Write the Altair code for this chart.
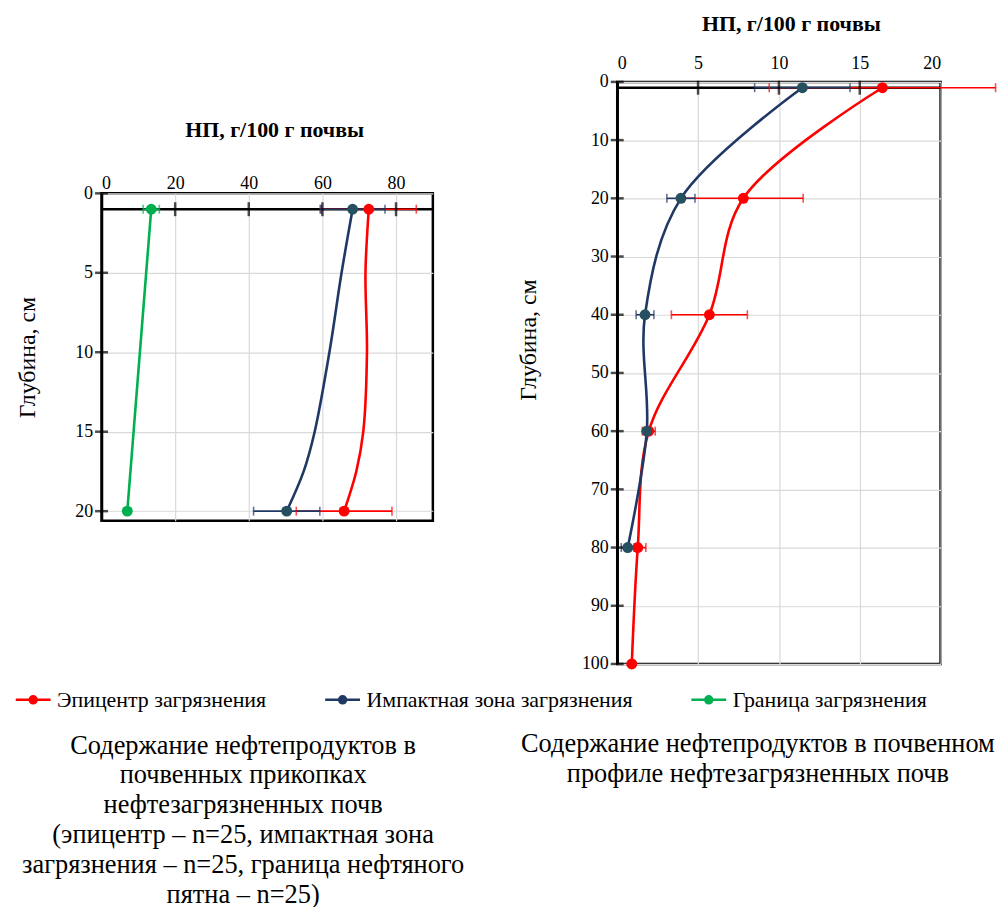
import altair as alt
import pandas as pd

SERIES = ["Эпицентр загрязнения", "Импактная зона загрязнения", "Граница загрязнения"]
LINE_COLORS = ["#ff0000", "#1f3864", "#00b050"]
MARKER_COLORS = ["#ff0000", "#26505f", "#00b050"]

# ---- left panel: прикопки (depth 1 and 20 cm) ----
left_depth = [1, 20]
left_epi = [72.6, 65.9]
left_epi_err = [12.9, 13.0]
left_imp = [68.2, 50.3]
left_imp_err = [8.8, 9.0]
left_bnd = [13.5, 7.0]
left_bnd_err = [2.2, 0.0]
# smoothed curves
left_curve_depth = [1, 5, 10, 15, 17.5, 20]
left_epi_curve = [72.6, 71.7, 72.1, 71.1, 69.2, 65.9]
left_imp_curve = [68.2, 65.2, 61.9, 57.9, 54.9, 50.3]
left_x_ticks = [0, 20, 40, 60, 80]
left_y_ticks = [0, 5, 10, 15, 20]

# ---- right panel: soil profile ----
right_depth_epi = [1, 20, 40, 60, 80, 100]
right_epi = [16.4, 7.8, 5.7, 1.95, 1.27, 0.9]
right_epi_err = [7.0, 3.7, 2.35, 0.4, 0.5, 0.0]
right_depth_imp = [1, 20, 40, 60, 80]
right_imp = [11.45, 3.94, 1.72, 1.83, 0.65]
right_imp_err = [2.95, 0.87, 0.55, 0.15, 0.4]
right_x_ticks = [0, 5, 10, 15, 20]
right_y_ticks = [0, 10, 20, 30, 40, 50, 60, 70, 80, 90, 100]

X_TITLE = "НП, г/100 г почвы"
Y_TITLE = "Глубина, см"
LEFT_CAPTION = ["Содержание нефтепродуктов в", "почвенных прикопках",
                "нефтезагрязненных почв", "(эпицентр – n=25, импактная зона",
                "загрязнения – n=25, граница нефтяного", "пятна – n=25)"]
RIGHT_CAPTION = ["Содержание нефтепродуктов в почвенном", "профиле нефтезагрязненных почв"]

FONT = "Liberation Serif"
LEGEND_PATH = ("M-1,0L1,0"
               "M-0.2,0A0.2,0.2,0,1,1,0.2,0A0.2,0.2,0,1,1,-0.2,0"
               "M-0.11,0A0.11,0.11,0,1,1,0.11,0A0.11,0.11,0,1,1,-0.11,0"
               "M-0.03,0A0.03,0.03,0,1,1,0.03,0A0.03,0.03,0,1,1,-0.03,0")

color_scale = alt.Scale(domain=SERIES, range=LINE_COLORS)
color = alt.Color("series:N", scale=color_scale, legend=None)
fill = alt.Fill("series:N", scale=alt.Scale(domain=SERIES, range=MARKER_COLORS), legend=None)


def points_frame(specs):
    rows = []
    for name, depths, vals, errs in specs:
        for d, v, e in zip(depths, vals, errs):
            rows.append({"series": name, "depth": d, "value": v, "lo": v - e, "hi": v + e, "err": e})
    return pd.DataFrame(rows)


def curve_frame(specs):
    rows = []
    for name, depths, vals in specs:
        for d, v in zip(depths, vals):
            rows.append({"series": name, "depth": d, "value": v})
    return pd.DataFrame(rows)


def panel(pts, curves, xdom, ydom, xticks, yticks, w, h, xtitle_shift,
          ytitle_pad, ytitle_y, xlab_pad, xtitle_pad):
    xscale = alt.Scale(domain=xdom, nice=False, zero=False)
    yscale = alt.Scale(domain=ydom, nice=False, zero=False, reverse=True)
    xaxis = alt.Axis(orient="top", values=xticks, ticks=False, tickSize=0, domain=False,
                     grid=True, gridColor="#d9d9d9", gridWidth=1.2, labelFont=FONT,
                     labelFontSize=18, labelColor="black", labelPadding=xlab_pad,
                     title=X_TITLE, titleFont=FONT, titleFontSize=22, titleFontWeight="bold",
                     titleColor="black", titlePadding=xtitle_pad, titleX=w / 2 + xtitle_shift)
    yaxis_kw = dict(orient="left", values=yticks, ticks=False, tickSize=0, domain=True,
                    domainColor="black", domainWidth=2.5, grid=True, gridColor="#d9d9d9",
                    gridWidth=1.2, labelFont=FONT, labelFontSize=18, labelColor="black",
                    labelPadding=9, title=Y_TITLE, titleFont=FONT, titleFontSize=24,
                    titleFontWeight="normal", titleColor="black", titlePadding=ytitle_pad)
    if ytitle_y is not None:
        yaxis_kw["titleY"] = ytitle_y
    yaxis = alt.Axis(**yaxis_kw)

    def X(f):
        return alt.X(f, type="quantitative", scale=xscale, axis=xaxis, title=X_TITLE)

    def Y(f):
        return alt.Y(f, type="quantitative", scale=yscale, axis=yaxis, title=Y_TITLE)

    base_line = pd.DataFrame({"depth": [1], "x0": [xdom[0]], "x1": [xdom[1]]})
    axis_rule = alt.Chart(base_line).mark_rule(color="black", strokeWidth=2.5).encode(
        y=Y("depth"), x=X("x0"), x2="x1")
    inner_ticks = pd.DataFrame({"value": [t for t in xticks if xdom[0] < t < xdom[1]], "depth": 1})
    xt = alt.Chart(inner_ticks).mark_tick(orient="vertical", color="black", size=14,
                                          thickness=2.5).encode(x=X("value"), y=Y("depth"))
    ytick_df = pd.DataFrame({"depth": yticks, "value": xdom[0]})
    yt = alt.Chart(ytick_df).mark_tick(orient="horizontal", color="black", size=13,
                                       thickness=2.5).encode(x=X("value"), y=Y("depth"))

    eb = pts[pts["err"] > 0]
    bars = alt.Chart(eb).mark_rule(strokeWidth=1.6).encode(
        y=Y("depth"), x=X("lo"), x2="hi", color=color)
    caps = alt.Chart(eb).transform_fold(["lo", "hi"], as_=["end", "pos"]).mark_tick(
        orient="vertical", size=9, thickness=1.6).encode(
        x=X("pos:Q"), y=Y("depth"), color=color)
    lines = alt.Chart(curves).mark_line(interpolate="catmull-rom", strokeWidth=2.6).encode(
        x=X("value"), y=Y("depth"), color=color, order="depth:Q", detail="series:N")
    dots = alt.Chart(pts).mark_point(filled=True, size=120, opacity=1).encode(
        x=X("value"), y=Y("depth"), fill=fill)

    return alt.layer(axis_rule, bars, caps, xt, yt, lines, dots).properties(width=w, height=h)


left_pts = points_frame([
    (SERIES[0], left_depth, left_epi, left_epi_err),
    (SERIES[1], left_depth, left_imp, left_imp_err),
    (SERIES[2], left_depth, left_bnd, left_bnd_err),
])
left_curves = curve_frame([
    (SERIES[0], left_curve_depth, left_epi_curve),
    (SERIES[1], left_curve_depth, left_imp_curve),
    (SERIES[2], left_depth, left_bnd),
])
right_pts = points_frame([
    (SERIES[0], right_depth_epi, right_epi, right_epi_err),
    (SERIES[1], right_depth_imp, right_imp, right_imp_err),
])
right_curves = curve_frame([
    (SERIES[0], right_depth_epi, right_epi),
    (SERIES[1], right_depth_imp, right_imp),
])

left = panel(left_pts, left_curves, [0, 90], [0, 20.6], left_x_ticks, left_y_ticks,
             333, 329, 7, 35, None, 1, 33)
right = panel(right_pts, right_curves, [0, 20], [0, 100], right_x_ticks, right_y_ticks,
              325, 585, 12, 41, 259, 9, 20)

hidden = alt.ViewBackground(strokeOpacity=0)
dummy = pd.DataFrame({"series": SERIES})

spacer = alt.Chart(dummy).mark_point(opacity=0).properties(width=1, height=111.5, view=hidden)


def caption_chart(lines, w, offset, with_legend=False):
    enc = {}
    if with_legend:
        enc["color"] = alt.Color("series:N", scale=color_scale, legend=alt.Legend(
            orient="none", legendX=-87.7, legendY=2, direction="horizontal", columns=3,
            columnPadding=53, title=None, symbolType=LEGEND_PATH, symbolSize=1225,
            symbolStrokeWidth=2.5, symbolOpacity=1, labelFont=FONT, labelFontSize=22,
            labelColor="black", labelOffset=5, labelLimit=400))
    return alt.Chart(dummy).mark_point(opacity=0).encode(**enc).properties(
        width=w, height=1, view=hidden,
        title=alt.TitleParams(lines, orient="bottom", anchor="middle", offset=offset, font=FONT,
                              fontSize=26.5, fontWeight="normal", color="black",
                              lineHeight=30, baseline="top", frame="group"))


bottom_row = alt.hconcat(caption_chart(LEFT_CAPTION, 284.6, 22, True),
                         caption_chart(RIGHT_CAPTION, 300, 49),
                         spacing=224.7, bounds="flush").resolve_scale(color="independent")

left_col = alt.vconcat(spacer, left, spacing=0, bounds="flush")
top_row = alt.hconcat(left_col, right, spacing=518.3, bounds="flush")

chart = alt.vconcat(top_row, bottom_row, spacing=600, bounds="flush").resolve_scale(
    color="independent", fill="independent"
).properties(
    padding={"left": 6, "top": 0, "right": 0, "bottom": 0}
).configure(font=FONT).configure_view(stroke="black", strokeWidth=2.5)

chart.save("out.html", embed_options={"renderer": "svg", "actions": False})
